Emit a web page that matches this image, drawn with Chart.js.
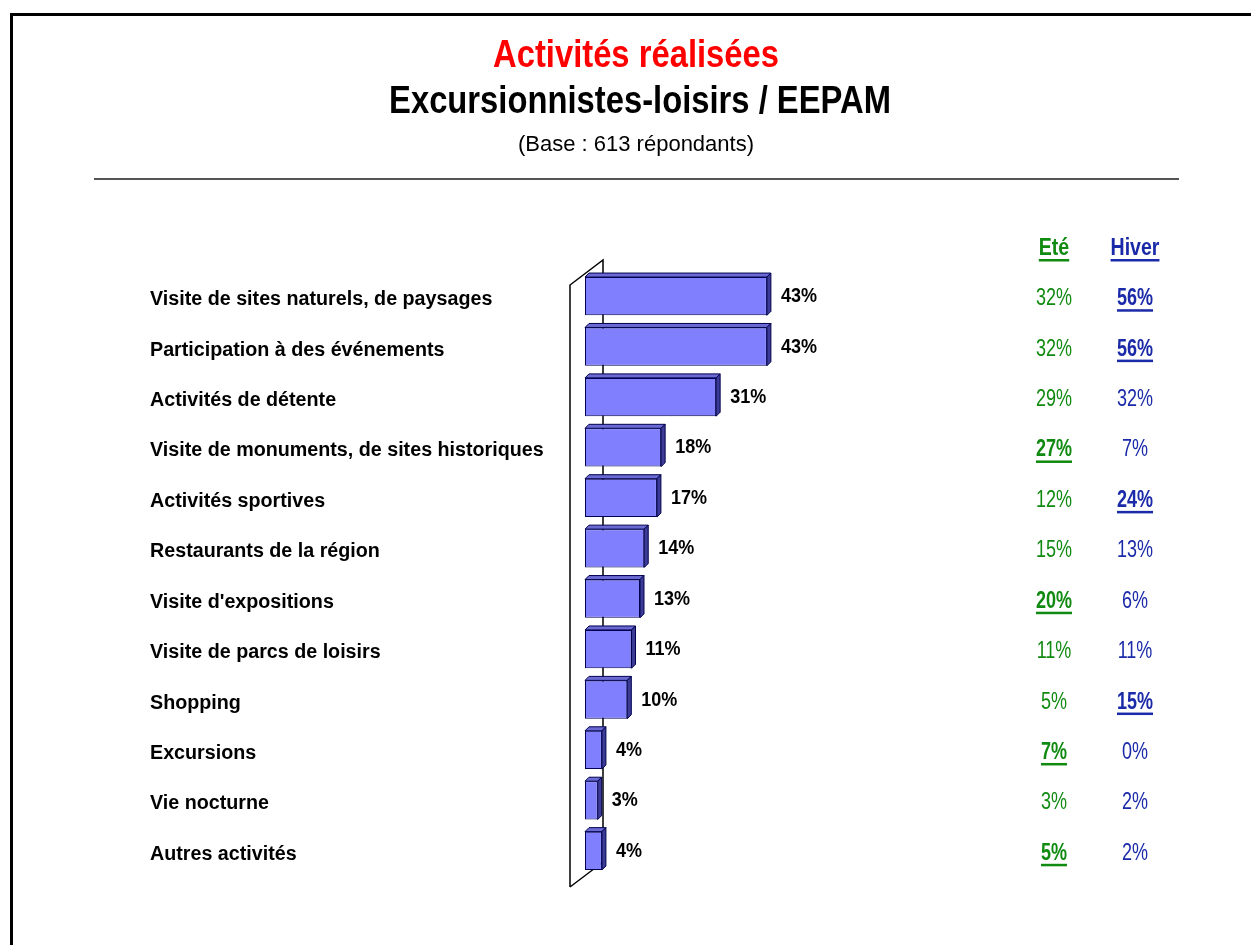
<!DOCTYPE html>
<html lang="fr">
<head>
<meta charset="utf-8">
<title>Activités réalisées</title>
<script src="https://cdn.jsdelivr.net/npm/chart.js@4.4.1/dist/chart.umd.min.js"></script>
<style>
  html, body { margin: 0; padding: 0; background: #fff; overflow: hidden; }
  #wrap { position: relative; width: 1251px; height: 945px; }
  #frame { position: absolute; left: 10px; top: 13px; width: 1400px; height: 1100px; border: 3px solid #000; box-sizing: border-box; }
  canvas { position: absolute; left: 0; top: 0; }
</style>
</head>
<body>
<div id="wrap">
  <div id="frame"></div>
  <canvas id="activites" width="1251" height="945"></canvas>
</div>
<script>
const categories = [
  "Visite de sites naturels, de paysages",
  "Participation à des événements",
  "Activités de détente",
  "Visite de monuments, de sites historiques",
  "Activités sportives",
  "Restaurants de la région",
  "Visite d'expositions",
  "Visite de parcs de loisirs",
  "Shopping",
  "Excursions",
  "Vie nocturne",
  "Autres activités"
];
const ensemble = [43, 43, 31, 18, 17, 14, 13, 11, 10, 4, 3, 4];
const ete = [32, 32, 29, 27, 12, 15, 20, 11, 5, 7, 3, 5];
const hiver = [56, 56, 32, 7, 24, 13, 6, 11, 15, 0, 2, 2];
// values set in bold + underlined in each season column
const eteFort = [false, false, false, true, false, false, true, false, false, true, false, true];
const hiverFort = [true, true, false, false, true, false, false, false, true, false, false, false];

const FONT = '"Liberation Sans", Arial, sans-serif';
const VERT = "#108a10";
const BLEU = "#1a2aa8";

// draws text squeezed horizontally by sx, optional underline
function txt(ctx, s, x, y, size, weight, color, sx, align, underline) {
  ctx.save();
  ctx.font = `${weight} ${size}px ${FONT}`;
  ctx.fillStyle = color;
  ctx.textBaseline = "alphabetic";
  ctx.textAlign = "left";
  const w = ctx.measureText(s).width * sx;
  const left = align === "center" ? x - w / 2 : align === "right" ? x - w : x;
  ctx.translate(left, y);
  ctx.scale(sx, 1);
  ctx.fillText(s, 0, 0);
  ctx.restore();
  if (underline) {
    ctx.fillStyle = color;
    ctx.fillRect(left, y + 4, w, 2.5);
  }
}

const header = {
  id: "header",
  afterDraw(chart) {
    const ctx = chart.ctx;
    txt(ctx, "Activités réalisées", 636, 67, 39, "bold", "#ff0000", 0.84, "center");
    txt(ctx, "Excursionnistes-loisirs / EEPAM", 640, 113, 39, "bold", "#000", 0.84, "center");
    txt(ctx, "(Base : 613 répondants)", 636, 151, 22, "normal", "#000", 1, "center");
    ctx.save();
    ctx.fillStyle = "#555";
    ctx.fillRect(94, 178, 1085, 2);
    ctx.restore();
  }
};

// the 3D wall behind the bars
const wall = {
  id: "wall",
  beforeDatasetsDraw(chart) {
    const ctx = chart.ctx, a = chart.chartArea;
    const x0 = chart.scales.x.getPixelForValue(0);
    const fx = x0 - 15, bx = fx + 33;
    const ft = a.top + 14, fb = a.bottom + 11;
    ctx.save();
    ctx.strokeStyle = "#000";
    ctx.lineWidth = 1.5;
    ctx.beginPath();
    ctx.moveTo(fx, fb);
    ctx.lineTo(fx, ft);
    ctx.lineTo(bx, ft - 25);
    ctx.lineTo(bx, fb - 25);
    ctx.lineTo(fx, fb);
    ctx.stroke();
    ctx.restore();
  }
};

// top and side faces of each bar
const depth = {
  id: "depth",
  afterDatasetsDraw(chart) {
    const ctx = chart.ctx, d = 4;
    chart.getDatasetMeta(0).data.forEach(bar => {
      const x1 = bar.x, x0 = bar.base;
      const t = bar.y - bar.height / 2, b = bar.y + bar.height / 2;
      ctx.save();
      ctx.strokeStyle = "#000050";
      ctx.lineWidth = 1;
      ctx.fillStyle = "#6a6ad2";
      ctx.beginPath();
      ctx.moveTo(x0, t); ctx.lineTo(x0 + d, t - d); ctx.lineTo(x1 + d, t - d); ctx.lineTo(x1, t);
      ctx.closePath(); ctx.fill(); ctx.stroke();
      ctx.fillStyle = "#3c3c96";
      ctx.beginPath();
      ctx.moveTo(x1, t); ctx.lineTo(x1 + d, t - d); ctx.lineTo(x1 + d, b - d); ctx.lineTo(x1, b);
      ctx.closePath(); ctx.fill(); ctx.stroke();
      ctx.restore();
    });
  }
};

const labels = {
  id: "labels",
  afterDraw(chart) {
    const ctx = chart.ctx, ys = chart.scales.y;
    const bars = chart.getDatasetMeta(0).data;
    categories.forEach((c, i) => {
      const y = ys.getPixelForValue(i);
      txt(ctx, c, 150, y + 9, 20, "bold", "#000", 0.985, "left");
      txt(ctx, ensemble[i] + "%", bars[i].x + 14, y + 6, 20, "bold", "#000", 0.9, "left");
      txt(ctx, ete[i] + "%", 1054, y + 9, 24, eteFort[i] ? "bold" : "normal", VERT, 0.75, "center", eteFort[i]);
      txt(ctx, hiver[i] + "%", 1135, y + 9, 24, hiverFort[i] ? "bold" : "normal", BLEU, 0.75, "center", hiverFort[i]);
    });
    txt(ctx, "Eté", 1054, 255, 23, "bold", VERT, 0.85, "center", true);
    txt(ctx, "Hiver", 1135, 255, 23, "bold", BLEU, 0.85, "center", true);
  }
};

new Chart(document.getElementById("activites"), {
  type: "bar",
  data: {
    labels: categories,
    datasets: [{
      data: ensemble,
      backgroundColor: "#8080ff",
      borderColor: "#000050",
      borderWidth: 1,
      borderSkipped: false,
      barPercentage: 0.76,
      categoryPercentage: 1
    }]
  },
  options: {
    indexAxis: "y",
    responsive: false,
    animation: false,
    devicePixelRatio: 1,
    layout: { padding: { left: 585, right: 243, top: 271, bottom: 69 } },
    scales: {
      x: { display: false, min: 0, max: 100 },
      y: { display: false }
    },
    plugins: { legend: { display: false }, tooltip: { enabled: false } }
  },
  plugins: [wall, depth, labels, header]
});
</script>
</body>
</html>
